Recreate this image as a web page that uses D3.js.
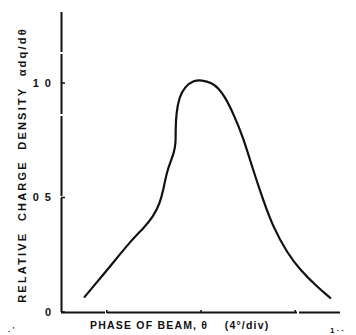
<!DOCTYPE html>
<html>
<head>
<meta charset="utf-8">
<script src="https://cdn.jsdelivr.net/npm/d3@7"></script>
<style>
body { margin: 0; background: #fff; }
svg { display: block; }
</style>
</head>
<body>
<svg id="chart" width="356" height="335"></svg>
<script>
// phase in degrees (4 deg per division), peak centred at 0
var phase = [-4.94, -3.87, -3.02, -2.40, -2.03, -1.74, -1.60, -1.46, -1.30, -1.15, -1.07, -1.08, -1.05, -0.92, -0.68, -0.33, 0.03, 0.46, 0.74, 1.02, 1.36, 1.79, 2.21, 2.64, 3.06, 3.66, 4.21, 4.94, 5.49];
var density = [0.066, 0.197, 0.306, 0.370, 0.416, 0.476, 0.533, 0.607, 0.655, 0.694, 0.738, 0.795, 0.869, 0.940, 0.984, 1.010, 1.013, 1.001, 0.978, 0.939, 0.869, 0.764, 0.620, 0.489, 0.371, 0.258, 0.183, 0.109, 0.061];
var yTicks = [0, 0.5, 1.0];
var yTickLabels = ["0", "0 5", "1 0"];
var xTicks = [-4, 0, 4];

var svg = d3.select("#chart");

var x = d3.scaleLinear().domain([-5.9, 5.9]).range([62, 340]);
var y = d3.scaleLinear().domain([0, 1]).range([312, 83]);

var ink = "#111";
var font = "Liberation Sans, Arial, sans-serif";

// axes, slightly broken like the scanned plot
svg.append("line")
    .attr("x1", 61.5).attr("x2", 61.5)
    .attr("y1", 12).attr("y2", y(0))
    .attr("stroke", ink).attr("stroke-width", 2)
    .attr("stroke-dasharray", "40,2,60,2,80,2,200");

svg.append("line")
    .attr("x1", 61).attr("x2", 340)
    .attr("y1", y(0) + 0.5).attr("y2", y(0) + 0.5)
    .attr("stroke", ink).attr("stroke-width", 2)
    .attr("stroke-dasharray", "44,2,190,2,60");

// y ticks
svg.selectAll(".ytick")
    .data(yTicks)
    .enter().append("line")
    .attr("class", "ytick")
    .attr("x1", 61).attr("x2", 65)
    .attr("y1", function(d) { return y(d); })
    .attr("y2", function(d) { return y(d); })
    .attr("stroke", ink).attr("stroke-width", 1.5);

svg.selectAll(".ylab")
    .data(yTicks)
    .enter().append("text")
    .attr("class", "ylab")
    .attr("x", 51)
    .attr("y", function(d) { return y(d); })
    .attr("dy", "0.35em")
    .attr("text-anchor", "end")
    .attr("font-family", font)
    .attr("font-weight", "bold")
    .attr("font-size", 11)
    .attr("fill", ink)
    .attr("xml:space", "preserve")
    .text(function(d, i) { return yTickLabels[i].replace(" ", "  "); });

// x ticks
svg.selectAll(".xtick")
    .data(xTicks)
    .enter().append("line")
    .attr("class", "xtick")
    .attr("x1", function(d) { return x(d); })
    .attr("x2", function(d) { return x(d); })
    .attr("y1", y(0) - 2).attr("y2", y(0) + 1)
    .attr("stroke", ink).attr("stroke-width", 1.5);

// curve
var line = d3.line()
    .x(function(d) { return x(d[0]); })
    .y(function(d) { return y(d[1]); })
    .curve(d3.curveBasis);

svg.append("path")
    .datum(phase.map(function(p, i) { return [p, density[i]]; }))
    .attr("d", line)
    .attr("fill", "none")
    .attr("stroke", ink)
    .attr("stroke-width", 2.2)
    .attr("stroke-linecap", "round")
    .attr("stroke-linejoin", "round");

// axis titles
svg.append("text")
    .attr("transform", "translate(26,165) rotate(-90)")
    .attr("text-anchor", "middle")
    .attr("font-family", font)
    .attr("font-weight", "bold")
    .attr("font-size", 11)
    .attr("letter-spacing", 2.2)
    .attr("fill", ink)
    .attr("xml:space", "preserve")
    .text("RELATIVE  CHARGE  DENSITY  αdq/dθ");

svg.append("text")
    .attr("x", 90)
    .attr("y", 329)
    .attr("font-family", font)
    .attr("font-weight", "bold")
    .attr("font-size", 10.5)
    .attr("letter-spacing", 1.2)
    .attr("fill", ink)
    .attr("xml:space", "preserve")
    .text("PHASE OF BEAM, θ    (4°/div)");

// stray tick-label fragments at the cropped edges
svg.append("text").attr("x", 8).attr("y", 332)
    .attr("font-family", font)
    .attr("font-weight", "bold").attr("font-size", 8).attr("fill", ink)
    .text(". '");
svg.append("text").attr("x", 330).attr("y", 333)
    .attr("font-family", font)
    .attr("font-weight", "bold").attr("font-size", 8).attr("fill", ink)
    .text("1 · ·");
</script>
</body>
</html>
